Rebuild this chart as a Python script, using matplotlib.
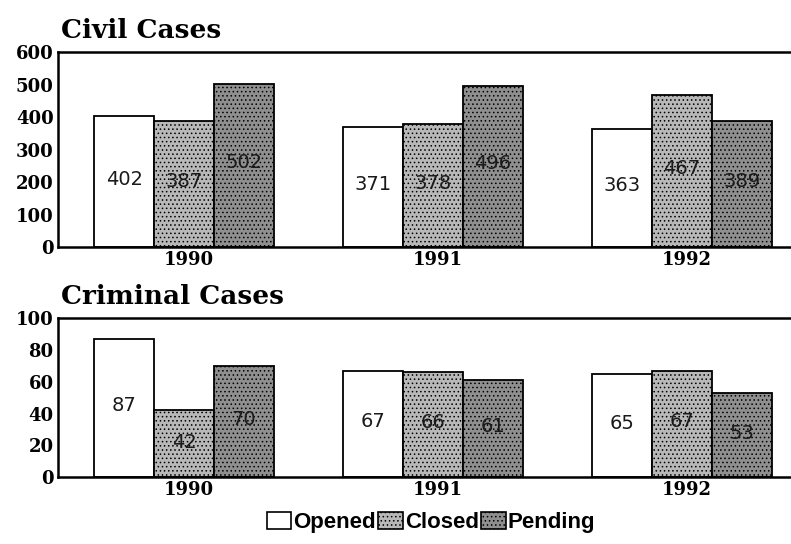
import numpy as np
import matplotlib
matplotlib.use('Agg')
import matplotlib.pyplot as plt
from matplotlib.patches import Patch

years = ['1990', '1991', '1992']
series = ['Opened', 'Closed', 'Pending']

civil_opened = [402, 371, 363]
civil_closed = [387, 378, 467]
civil_pending = [502, 496, 389]

criminal_opened = [87, 67, 65]
criminal_closed = [42, 66, 67]
criminal_pending = [70, 61, 53]

civil_ticks = [0, 100, 200, 300, 400, 500, 600]
criminal_ticks = [0, 20, 40, 60, 80, 100]

# fill + hatch per series
styles = {
    'Opened': dict(facecolor='white', hatch=None),
    'Closed': dict(facecolor='#b8b8b8', hatch='....'),
    'Pending': dict(facecolor='#8f8f8f', hatch='....'),
}

plt.rcParams['hatch.color'] = '#444444'
plt.rcParams['hatch.linewidth'] = 0.6

fig = plt.figure(figsize=(7.91, 5.44), dpi=100)
ax_top = fig.add_axes([0.073, 0.546, 0.927, 0.358])
ax_bot = fig.add_axes([0.073, 0.123, 0.927, 0.292])


def draw_panel(ax, data, ymax, ticks, title):
    x = np.arange(len(years))
    width = 0.24
    offsets = [-width, 0, width]
    for name, vals, off in zip(series, data, offsets):
        st = styles[name]
        bars = ax.bar(x + off, vals, width, facecolor=st['facecolor'], hatch=st['hatch'],
                      edgecolor='black', linewidth=1.3)
        for b, v in zip(bars, vals):
            ax.text(b.get_x() + b.get_width() / 2, v * 0.52, str(v), ha='center', va='center',
                    fontsize=14, family='DejaVu Sans', color='#1a1a1a')
    ax.set_xlim(-0.507, 2.438)
    ax.set_ylim(0, ymax)
    ax.set_yticks(ticks)
    ax.set_yticklabels([str(t) for t in ticks], fontsize=13, fontweight='bold', family='DejaVu Serif')
    ax.set_xticks(x + 0.02)
    ax.set_xticklabels(years, fontsize=13, fontweight='bold', family='DejaVu Serif')
    ax.tick_params(length=0, pad=3)
    ax.spines['right'].set_visible(False)
    for s in ['top', 'left', 'bottom']:
        ax.spines[s].set_linewidth(1.8)
    ax.set_title(title, loc='left', fontsize=19, fontweight='bold', family='DejaVu Serif',
                 x=0.005, pad=10)


draw_panel(ax_top, [civil_opened, civil_closed, civil_pending], 600, civil_ticks, 'Civil Cases')
draw_panel(ax_bot, [criminal_opened, criminal_closed, criminal_pending], 100, criminal_ticks, 'Criminal Cases')

handles = [Patch(facecolor=styles[n]['facecolor'], hatch=styles[n]['hatch'], edgecolor='black',
                 linewidth=1.2, label=n) for n in series]
fig.legend(handles=handles, loc='center', bbox_to_anchor=(0.545, 0.04), ncol=3, frameon=False,
           handlelength=1.1, handleheight=0.8, handletextpad=0.1, columnspacing=0.1,
           prop={'family': 'Liberation Sans', 'weight': 'bold', 'size': 16})

fig.savefig('out.png', dpi=100, facecolor='white')
